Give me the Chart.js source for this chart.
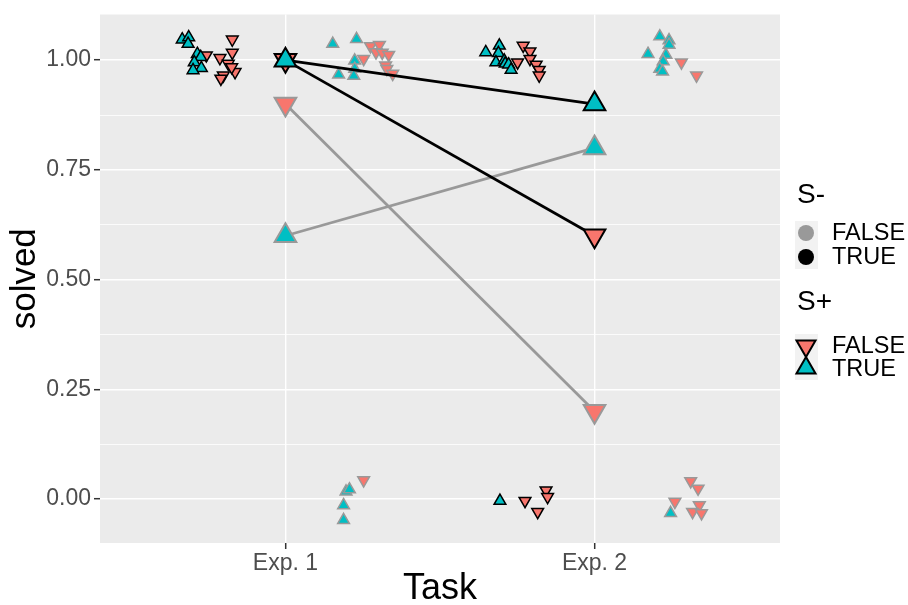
<!DOCTYPE html>
<html>
<head>
<meta charset="utf-8">
<script src="https://cdn.jsdelivr.net/npm/chart.js@4.4.0/dist/chart.umd.min.js"></script>
<style>
  html, body { margin: 0; padding: 0; background: #ffffff; }
  canvas { display: block; }
</style>
</head>
<body>
<canvas id="chart" width="908" height="605"></canvas>
<script>
// Task x solved, split by S- (outline / line colour) and S+ (fill / triangle)

const taskLabels = ['Exp. 1', 'Exp. 2'];
const taskPos = [1, 2];
const yMajorTicks = [0, 0.25, 0.5, 0.75, 1];
const yMinorTicks = [0.125, 0.375, 0.625, 0.875];
const legendLabels = ['FALSE', 'TRUE'];

// group means (Exp. 1, Exp. 2)
const meanMinusT_PlusT = [1.00, 0.90];
const meanMinusT_PlusF = [1.00, 0.60];
const meanMinusF_PlusT = [0.60, 0.80];
const meanMinusF_PlusF = [0.90, 0.20];

// jittered raw points, S- TRUE / S+ TRUE
const jitMinusT_PlusT_x = [0.666, 0.687, 0.685, 0.715, 0.726, 0.705, 0.728, 0.701,
  1.692, 1.648, 1.689, 1.681, 1.708, 1.711, 1.722, 1.730, 1.694];
const jitMinusT_PlusT_y = [1.047, 1.052, 1.037, 1.014, 1.007, 0.995, 0.982, 0.977,
  1.033, 1.018, 1.016, 0.995, 0.999, 0.992, 0.990, 0.978, -0.004];

// S- TRUE / S+ FALSE
const jitMinusT_PlusF_x = [0.828, 0.744, 0.788, 0.828, 0.815, 0.837, 0.826, 0.799, 0.791,
  1.769, 1.791, 1.751, 1.791, 1.811, 1.821, 1.821, 1.775, 1.816, 1.843, 1.848];
const jitMinusT_PlusF_y = [1.047, 1.011, 1.005, 1.017, 0.992, 0.973, 0.984, 0.965, 0.958,
  1.033, 1.020, 0.995, 1.003, 0.990, 0.978, 0.965, -0.004, -0.029, 0.020, 0.005];

// S- FALSE / S+ TRUE
const jitMinusF_PlusT_x = [1.153, 1.230, 1.224, 1.172, 1.224, 1.221, 1.196, 1.207, 1.188, 1.188,
  2.211, 2.241, 2.241, 2.173, 2.231, 2.222, 2.211, 2.220, 2.246];
const jitMinusF_PlusT_y = [1.037, 1.048, 0.999, 0.967, 0.980, 0.964, 0.017, 0.022, -0.014, -0.048,
  1.054, 1.045, 1.035, 1.014, 1.012, 0.997, 0.980, 0.974, -0.032];

// S- FALSE / S+ FALSE
const jitMinusF_PlusF_x = [1.275, 1.304, 1.293, 1.313, 1.334, 1.253, 1.324, 1.328, 1.347, 1.253,
  2.281, 2.330, 2.311, 2.335, 2.260, 2.339, 2.317, 2.346];
const jitMinusF_PlusF_y = [1.032, 1.035, 1.018, 1.017, 1.012, 1.003, 0.988, 0.980, 0.969, 0.043,
  0.995, 0.965, 0.041, 0.024, -0.006, -0.014, -0.029, -0.032];

const RED = '#F8766D';
const TEAL = '#00BFC4';
const GREY = '#999999';
const FONT = '"Liberation Sans", Arial, sans-serif';

function zip(xs, ys) {
    return xs.map((x, i) => ({ x: x, y: ys[i] }));
}

function jitterSet(xs, ys, fill, outline, up, order) {
    return {
        data: zip(xs, ys),
        showLine: false,
        pointStyle: 'triangle',
        rotation: up ? 0 : 180,
        pointRadius: 6.8,
        pointHoverRadius: 6.8,
        backgroundColor: fill,
        borderColor: outline,
        pointBorderWidth: 1.5,
        order: order
    };
}

function meanSet(means, fill, outline, up, order) {
    return {
        data: zip(taskPos, means),
        showLine: true,
        borderColor: outline,
        borderWidth: 2.8,
        pointStyle: 'triangle',
        rotation: up ? 0 : 180,
        pointRadius: 12.5,
        pointHoverRadius: 12.5,
        pointBackgroundColor: fill,
        pointBorderColor: outline,
        pointBorderWidth: 2,
        order: order
    };
}

// grey panel behind the grid
const panelPlugin = {
    id: 'panel',
    beforeDraw(chart) {
        const a = chart.chartArea;
        const ctx = chart.ctx;
        ctx.save();
        ctx.fillStyle = '#EBEBEB';
        ctx.fillRect(a.left, a.top, a.right - a.left, a.bottom - a.top);
        ctx.restore();
    }
};

function triangle(ctx, x, y, r, up, fill) {
    const d = up ? 1 : -1;
    ctx.beginPath();
    ctx.moveTo(x, y - d * r);
    ctx.lineTo(x + r * Math.sqrt(3) / 2, y + d * r / 2);
    ctx.lineTo(x - r * Math.sqrt(3) / 2, y + d * r / 2);
    ctx.closePath();
    ctx.fillStyle = fill;
    ctx.fill();
    ctx.lineWidth = 2;
    ctx.strokeStyle = '#000000';
    ctx.stroke();
}

// ggplot style legend on the right
const legendPlugin = {
    id: 'ggLegend',
    afterDraw(chart) {
        const ctx = chart.ctx;
        ctx.save();
        ctx.textAlign = 'left';
        ctx.textBaseline = 'middle';

        // S-
        ctx.fillStyle = '#000000';
        ctx.font = '28px ' + FONT;
        ctx.fillText('S-', 797, 195);
        ctx.fillStyle = '#F2F2F2';
        ctx.fillRect(795, 221, 23, 48);
        ctx.beginPath();
        ctx.arc(806, 233, 8, 0, Math.PI * 2);
        ctx.fillStyle = GREY;
        ctx.fill();
        ctx.beginPath();
        ctx.arc(806, 257, 8, 0, Math.PI * 2);
        ctx.fillStyle = '#000000';
        ctx.fill();
        ctx.font = '23.5px ' + FONT;
        ctx.fillText(legendLabels[0], 832, 234);
        ctx.fillText(legendLabels[1], 832, 258);

        // S+
        ctx.font = '28px ' + FONT;
        ctx.fillText('S+', 797, 302);
        ctx.fillStyle = '#F2F2F2';
        ctx.fillRect(795, 334, 23, 46);
        triangle(ctx, 806, 346, 11, false, RED);
        triangle(ctx, 806, 368, 11, true, TEAL);
        ctx.fillStyle = '#000000';
        ctx.font = '23.5px ' + FONT;
        ctx.fillText(legendLabels[0], 832, 347);
        ctx.fillText(legendLabels[1], 832, 370);
        ctx.restore();
    }
};

const isMajor = v => yMajorTicks.some(t => Math.abs(t - v) < 1e-9);

new Chart(document.getElementById('chart'), {
    type: 'scatter',
    data: {
        datasets: [
            meanSet(meanMinusT_PlusT, TEAL, '#000000', true, 1),
            meanSet(meanMinusT_PlusF, RED, '#000000', false, 2),
            meanSet(meanMinusF_PlusT, TEAL, GREY, true, 3),
            meanSet(meanMinusF_PlusF, RED, GREY, false, 4),
            jitterSet(jitMinusT_PlusT_x, jitMinusT_PlusT_y, TEAL, '#000000', true, 5),
            jitterSet(jitMinusT_PlusF_x, jitMinusT_PlusF_y, RED, '#000000', false, 6),
            jitterSet(jitMinusF_PlusT_x, jitMinusF_PlusT_y, TEAL, GREY, true, 7),
            jitterSet(jitMinusF_PlusF_x, jitMinusF_PlusF_y, RED, GREY, false, 8)
        ]
    },
    options: {
        responsive: false,
        animation: false,
        devicePixelRatio: 1,
        layout: { padding: { top: 9, right: 128, bottom: 0, left: 0 } },
        plugins: {
            legend: { display: false },
            tooltip: { enabled: false }
        },
        scales: {
            x: {
                type: 'linear',
                min: 0.4,
                max: 2.6,
                afterBuildTicks: s => { s.ticks = taskPos.map(v => ({ value: v })); },
                afterFit: s => { s.height = 62; s.paddingLeft = 0; s.paddingRight = 0; },
                border: { display: false },
                grid: {
                    color: '#FFFFFF',
                    lineWidth: 1.4,
                    tickColor: '#333333',
                    tickWidth: 1.5,
                    tickLength: 6
                },
                ticks: {
                    color: '#4D4D4D',
                    padding: 1,
                    maxRotation: 0,
                    font: { family: FONT, size: 23 },
                    callback: v => taskLabels[taskPos.indexOf(v)]
                },
                title: {
                    display: true,
                    text: 'Task',
                    color: '#000000',
                    padding: 0,
                    font: { family: FONT, size: 36, lineHeight: 0.9 }
                }
            },
            y: {
                min: -0.1,
                max: 1.104,
                afterBuildTicks: s => {
                    s.ticks = yMajorTicks.concat(yMinorTicks).sort((a, b) => a - b).map(v => ({ value: v }));
                },
                afterFit: s => { s.width = 100; s.paddingTop = 0; s.paddingBottom = 0; },
                border: { display: false },
                grid: {
                    color: '#FFFFFF',
                    lineWidth: ctx => isMajor(ctx.tick.value) ? 1.4 : 0.8,
                    tickColor: ctx => isMajor(ctx.tick.value) ? '#333333' : 'rgba(0,0,0,0)',
                    tickWidth: 1.5,
                    tickLength: 6
                },
                ticks: {
                    color: '#4D4D4D',
                    padding: 3,
                    font: { family: FONT, size: 23 },
                    callback: v => isMajor(v) ? v.toFixed(2) : ''
                },
                title: {
                    display: true,
                    text: 'solved',
                    color: '#000000',
                    padding: { top: 8 },
                    font: { family: FONT, size: 35, lineHeight: 1 }
                }
            }
        }
    },
    plugins: [panelPlugin, legendPlugin]
});
</script>
</body>
</html>
